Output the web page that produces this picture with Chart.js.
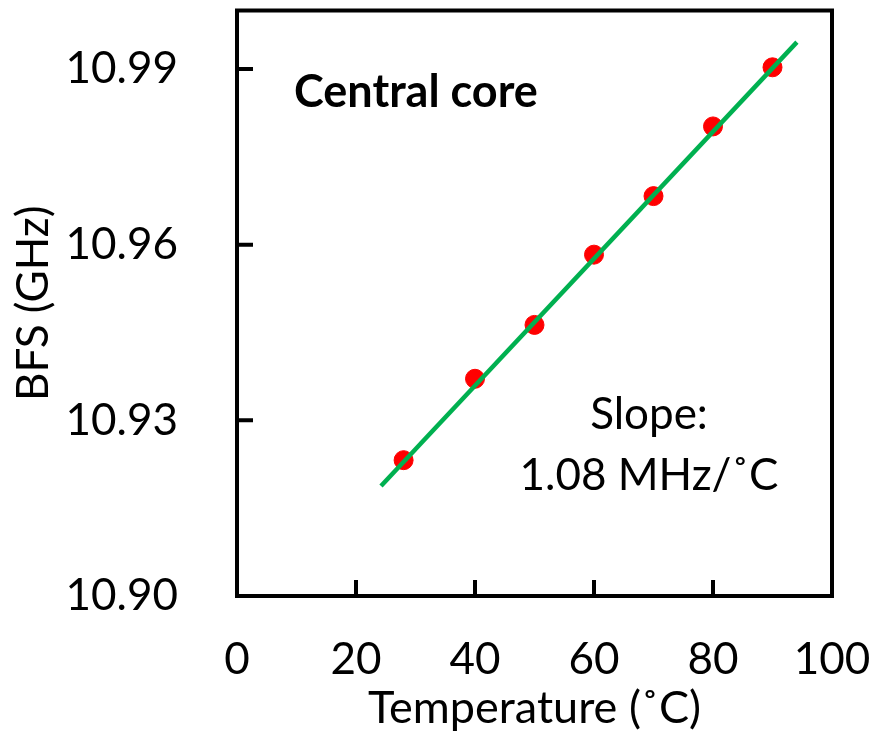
<!DOCTYPE html>
<html>
<head>
<meta charset="utf-8">
<script src="https://cdn.jsdelivr.net/npm/chart.js@4.4.1/dist/chart.umd.min.js"></script>
<style>
  html, body { margin: 0; padding: 0; background: #fff; }
  #wrap { width: 873px; height: 740px; }
</style>
</head>
<body>
<div id="wrap"><canvas id="bfs-chart" width="873" height="740"></canvas></div>
<script>
// measured points (temperature, BFS)
var temps = [28, 40, 50, 60, 70, 80, 90];
var bfs = [10.9232, 10.9371, 10.9463, 10.9583, 10.9683, 10.9802, 10.9903];
// fitted line end points as drawn
var fitTemps = [24.2, 94.1];
var fitBfs = [10.9188, 10.9946];
var xTicks = [0, 20, 40, 60, 80, 100];
var yTicks = [10.90, 10.93, 10.96, 10.99];

var sFont = "Lato, 'Open Sans', sans-serif";

// box frame + inward tick marks + texts
var framePlugin = {
    id: 'frame',
    afterDraw: function (chart) {
        var ctx = chart.ctx;
        var a = chart.chartArea;
        var xs = chart.scales.x, ys = chart.scales.y;
        ctx.save();
        ctx.strokeStyle = "#000";
        ctx.lineWidth = 4;
        ctx.lineCap = "square";
        ctx.strokeRect(a.left, a.top, a.right - a.left, a.bottom - a.top);
        ctx.beginPath();
        xTicks.forEach(function (v) {
            if (v === xs.min || v === xs.max) return;
            var px = xs.getPixelForValue(v);
            ctx.moveTo(px, a.bottom);
            ctx.lineTo(px, a.bottom - 14);
        });
        yTicks.forEach(function (v) {
            if (v === ys.min || v === ys.max) return;
            var py = ys.getPixelForValue(v);
            ctx.moveTo(a.left, py);
            ctx.lineTo(a.left + 14, py);
        });
        ctx.stroke();

        // annotations
        ctx.fillStyle = "#000";
        ctx.textBaseline = "alphabetic";
        ctx.font = "bold 45px " + sFont;
        ctx.textAlign = "left";
        ctx.fillText("Central core", 294, 107);
        ctx.font = "44px " + sFont;
        ctx.textAlign = "center";
        ctx.fillText("Slope:", 649, 429);
        ctx.fillText("1.08 MHz/˚C", 649, 490);
        ctx.restore();
    }
};

new Chart(document.getElementById("bfs-chart"), {
    type: 'scatter',
    data: {
        datasets: [{
            label: "BFS",
            data: temps.map(function (t, i) { return { x: t, y: bfs[i] }; }),
            backgroundColor: "#FF0000",
            borderColor: "#FF0000",
            pointRadius: 9.5,
            pointHoverRadius: 9.5,
            order: 2
        }, {
            type: 'line',
            label: "Fit",
            data: fitTemps.map(function (t, i) { return { x: t, y: fitBfs[i] }; }),
            borderColor: "#00B050",
            borderWidth: 4.5,
            pointRadius: 0,
            fill: false,
            order: 1
        }]
    },
    plugins: [framePlugin],
    options: {
        responsive: false,
        animation: false,
        events: [],
        layout: { padding: { left: 0, top: 6, right: 41, bottom: 0 } },
        plugins: {
            legend: { display: false },
            tooltip: { enabled: false }
        },
        scales: {
            x: {
                type: 'linear',
                min: 0,
                max: 100,
                afterBuildTicks: function (scale) {
                    scale.ticks = xTicks.map(function (v) { return { value: v }; });
                },
                afterFit: function (scale) {
                    scale.height = 144;
                    scale.paddingLeft = 0;
                    scale.paddingRight = 0;
                },
                grid: { display: false, drawTicks: false },
                border: { display: false },
                ticks: {
                    color: "#000",
                    padding: 37,
                    maxRotation: 0,
                    font: { family: sFont, size: 44 }
                },
                title: {
                    display: true,
                    text: "Temperature (˚C)",
                    color: "#000",
                    font: { family: sFont, size: 45 },
                    padding: { top: 0, bottom: 5 }
                }
            },
            y: {
                type: 'linear',
                min: 10.90,
                max: 11.00,
                afterBuildTicks: function (scale) {
                    scale.ticks = yTicks.map(function (v) { return { value: v }; });
                },
                afterFit: function (scale) {
                    scale.width = 237;
                    scale.paddingTop = 0;
                    scale.paddingBottom = 0;
                },
                grid: { display: false, drawTicks: false },
                border: { display: false },
                ticks: {
                    color: "#000",
                    padding: 59,
                    font: { family: sFont, size: 44 },
                    callback: function (v) { return Number(v).toFixed(2); }
                },
                title: {
                    display: true,
                    text: "BFS (GHz)",
                    color: "#000",
                    font: { family: sFont, size: 44 },
                    padding: { top: 7, bottom: 0 }
                }
            }
        }
    }
});
</script>
</body>
</html>
